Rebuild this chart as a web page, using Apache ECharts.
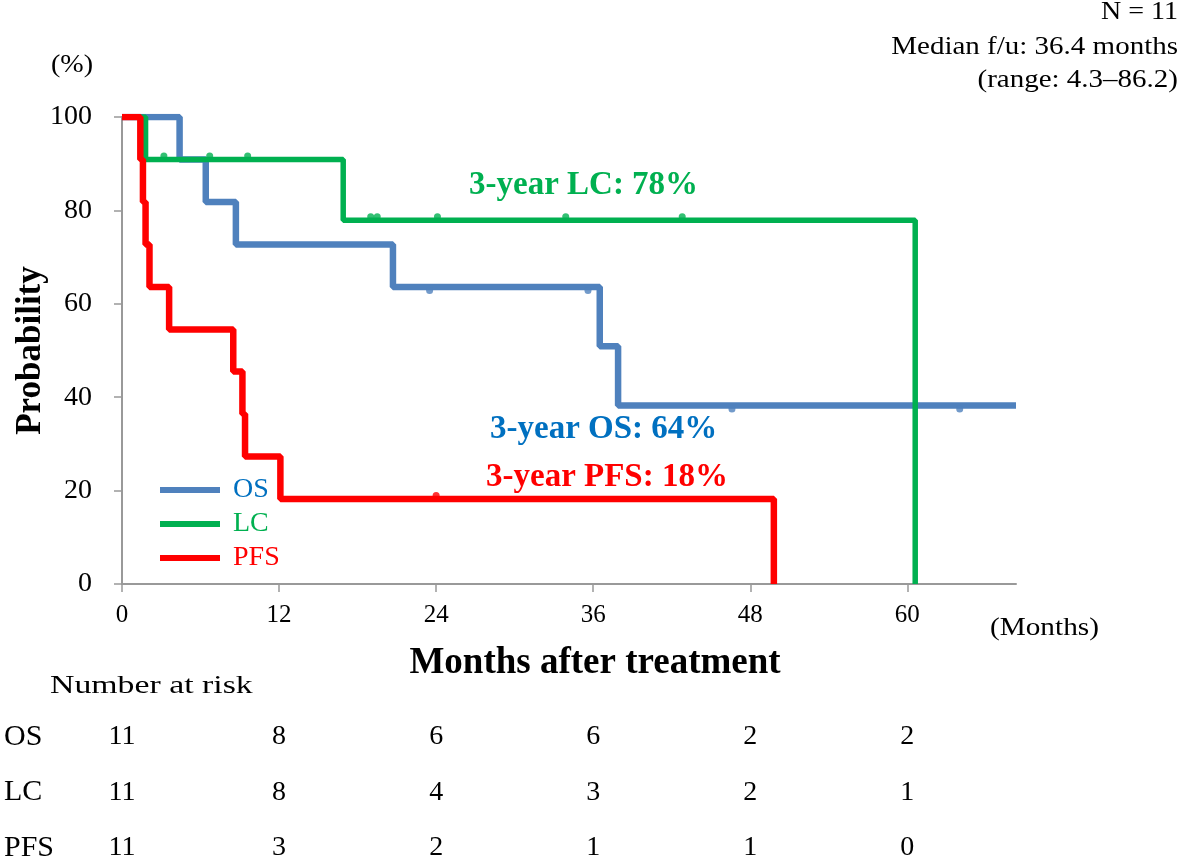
<!DOCTYPE html>
<html>
<head>
<meta charset="utf-8">
<script src="https://cdn.jsdelivr.net/npm/echarts@6/dist/echarts.min.js"></script>
<style>
html, body { margin: 0; padding: 0; background: #fff; }
#chart { width: 1181px; height: 861px; }
</style>
</head>
<body>
<div id="chart"></div>
<script>
// Kaplan-Meier steps (months, %)
var osTimes = [0, 4.4, 6.4, 8.7, 20.7, 36.5, 37.9, 68.3];
var osSurv = [100, 90.9, 81.8, 72.7, 63.6, 50.9, 38.2, 38.2];
var osCensorTimes = [23.5, 35.6, 46.6, 64.0];
var osCensorSurv = [63.6, 63.6, 38.2, 38.2];

var lcTimes = [0, 1.8, 16.9, 60.6];
var lcSurv = [100, 90.9, 77.9, 0];
var lcCensorTimes = [3.2, 6.7, 9.6, 19.0, 19.5, 24.1, 33.9, 42.8];
var lcCensorSurv = [90.9, 90.9, 90.9, 77.9, 77.9, 77.9, 77.9, 77.9];

var pfsTimes = [0, 1.4, 1.6, 1.8, 2.1, 3.6, 8.5, 9.2, 9.4, 12.1, 49.8];
var pfsSurv = [100, 90.9, 81.8, 72.7, 63.6, 54.5, 45.5, 36.4, 27.3, 18.2, 0];
var pfsCensorTimes = [24.0];
var pfsCensorSurv = [18.2];

var xTicks = [0, 12, 24, 36, 48, 60];
var riskRows = ["OS", "LC", "PFS"];
var riskOS = [11, 8, 6, 6, 2, 2];
var riskLC = [11, 8, 4, 3, 2, 1];
var riskPFS = [11, 3, 2, 1, 1, 0];

var FONT = "Liberation Serif";
var cBlue = "#4F81BD", cBlueText = "#0070C0", cGreen = "#00B050", cRed = "#FF0000";

function zip(xs, ys) {
	return xs.map(function(x, i) { return [x, ys[i]]; });
}

var riskData = [];
[riskOS, riskLC, riskPFS].forEach(function(row, r) {
	row.forEach(function(v, i) {
		riskData.push([xTicks[i], r, v]);
	});
});

// plain text note, stretched a little like the original
function note(text, x, y, size, opts) {
	opts = opts || {};
	return {
		type: "text", x: x, y: y, scaleX: opts.scaleX || 1,
		style: {
			text: text, font: (opts.bold ? "bold " : "") + size + "px " + FONT,
			fill: opts.color || "#000", align: opts.align || "left", verticalAlign: "middle"
		}
	};
}

var chart = echarts.init(document.getElementById("chart"));
var option = {
	animation: false,
	textStyle: { fontFamily: FONT },
	grid: [
		{ left: 122, right: 165, top: 117, bottom: 277, outerBoundsMode: "none", containLabel: false },
		{ left: 122, right: 165, top: 737, height: 111, outerBoundsMode: "none", containLabel: false }
	],
	legend: {
		orient: "vertical",
		left: 155,
		top: 471,
		itemWidth: 60,
		itemHeight: 6,
		itemGap: 6,
		icon: "rect",
		data: [
			{ name: "OS", textStyle: { color: cBlueText } },
			{ name: "LC", textStyle: { color: cGreen } },
			{ name: "PFS", textStyle: { color: cRed } }
		],
		textStyle: { fontFamily: FONT, fontSize: 28, padding: [0, 0, 0, 8] }
	},
	xAxis: [{
		gridIndex: 0,
		type: "value",
		min: 0,
		max: 68.3,
		name: "Months after treatment",
		nameLocation: "middle",
		nameGap: 61,
		nameMoveOverlap: false,
		nameTextStyle: { fontFamily: FONT, fontSize: 37, fontWeight: "bold", color: "#000", padding: [0, 0, 0, 52] },
		splitLine: { show: false },
		axisLine: { lineStyle: { color: "#999", width: 2 } },
		axisTick: { show: true, length: 8, lineStyle: { color: "#999", width: 1.5 }, customValues: xTicks },
		axisLabel: { fontFamily: FONT, fontSize: 25, color: "#000", margin: 19, customValues: xTicks }
	}, {
		gridIndex: 1,
		type: "value",
		min: 0,
		max: 68.3,
		show: false
	}],
	yAxis: [{
		gridIndex: 0,
		type: "value",
		min: 0,
		max: 100,
		interval: 20,
		name: "Probability",
		nameLocation: "middle",
		nameGap: 74,
		nameMoveOverlap: false,
		nameTextStyle: { fontFamily: FONT, fontSize: 35, fontWeight: "bold", color: "#000" },
		splitLine: { show: false },
		axisLine: { show: true, lineStyle: { color: "#999", width: 2 } },
		axisTick: { show: true, length: 8, lineStyle: { color: "#999", width: 1.5 } },
		axisLabel: { fontFamily: FONT, fontSize: 28, color: "#000", margin: 30 }
	}, {
		gridIndex: 1,
		type: "value",
		min: 0,
		max: 2,
		interval: 1,
		inverse: true,
		axisLine: { show: false },
		axisTick: { show: false },
		splitLine: { show: false },
		axisLabel: {
			fontFamily: FONT, fontSize: 30, color: "#000", align: "left", margin: 118,
			formatter: function(v) { return riskRows[v]; }
		}
	}],
	series: [
		{ name: "OS", type: "line", step: "end", data: zip(osTimes, osSurv), symbol: "none", color: cBlue,
		  lineStyle: { color: cBlue, width: 6.5 }, z: 3 },
		{ name: "LC", type: "line", step: "end", data: zip(lcTimes, lcSurv), symbol: "none", color: cGreen,
		  lineStyle: { color: cGreen, width: 5.5 }, z: 4 },
		{ name: "PFS", type: "line", step: "end", data: zip(pfsTimes, pfsSurv), symbol: "none", color: cRed,
		  lineStyle: { color: cRed, width: 6.5 }, z: 5 },
		{ name: "OS censored", type: "scatter", data: zip(osCensorTimes, osCensorSurv), symbol: "circle",
		  symbolSize: 7, symbolOffset: [0, 3.5], itemStyle: { color: cBlue }, z: 3 },
		{ name: "LC censored", type: "scatter", data: zip(lcCensorTimes, lcCensorSurv), symbol: "circle",
		  symbolSize: 7, symbolOffset: [0, -3.5], itemStyle: { color: cGreen }, z: 4 },
		{ name: "PFS censored", type: "scatter", data: zip(pfsCensorTimes, pfsCensorSurv), symbol: "circle",
		  symbolSize: 7, symbolOffset: [0, -3.5], itemStyle: { color: cRed }, z: 5 },
		{ name: "at risk", type: "scatter", xAxisIndex: 1, yAxisIndex: 1, data: riskData,
		  symbol: "circle", symbolSize: 0, itemStyle: { color: "#fff" },
		  label: { show: true, position: "inside", fontFamily: FONT, fontSize: 28, color: "#000",
		    textBorderWidth: 0, opacity: 1,
		    formatter: function(p) { return String(p.value[2]); } } }
	],
	graphic: [
		note("(%)", 51, 65, 26, { scaleX: 1.08 }),
		note("N = 11", 1178, 12, 25, { align: "right", scaleX: 1.12 }),
		note("Median f/u: 36.4 months", 1178, 47, 25, { align: "right", scaleX: 1.16 }),
		note("(range: 4.3\u201386.2)", 1178, 80, 25, { align: "right", scaleX: 1.16 }),
		note("(Months)", 990, 628, 25, { scaleX: 1.17 }),
		note("Number at risk", 50, 686, 26, { scaleX: 1.3 }),
		note("3-year LC: 78%", 469, 185, 33, { bold: true, color: cGreen }),
		note("3-year OS: 64%", 490, 429, 33, { bold: true, color: cBlueText }),
		note("3-year PFS: 18%", 486, 477, 33, { bold: true, color: cRed })
	]
};
chart.setOption(option);
</script>
</body>
</html>
